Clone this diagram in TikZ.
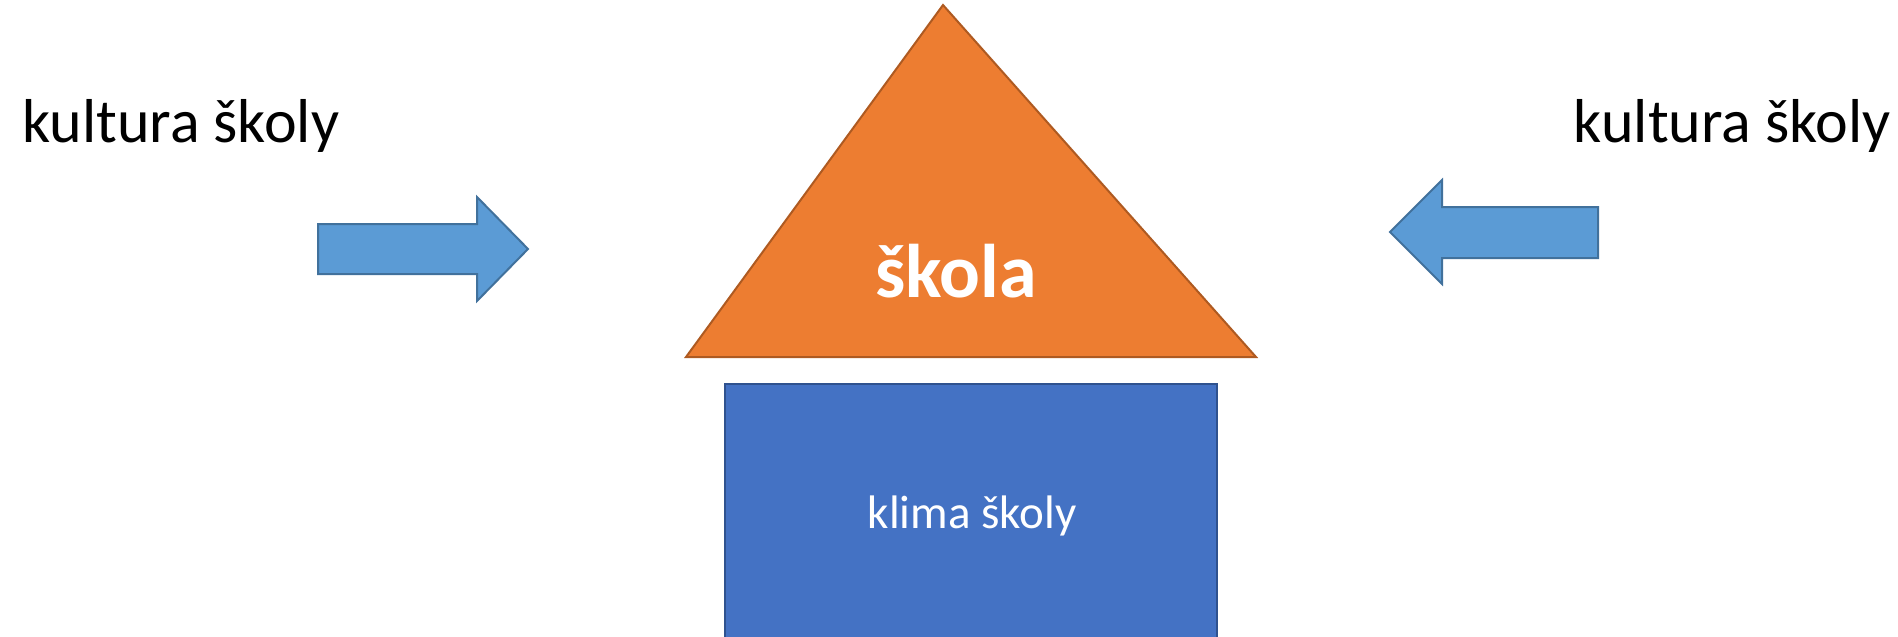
\documentclass[tikz,border=0pt]{standalone}
\usepackage{fontspec}
\setmainfont{Carlito}
\definecolor{orangefill}{HTML}{ED7D31}
\definecolor{orangeline}{HTML}{AE5A21}
\definecolor{bluefill}{HTML}{4472C4}
\definecolor{blueline}{HTML}{2F528F}
\definecolor{arrowfill}{HTML}{5B9BD5}
\definecolor{arrowline}{HTML}{41719C}
\tikzset{
  roof/.style={fill=orangefill, draw=orangeline, line width=2pt, line join=miter},
  wall/.style={fill=bluefill, draw=blueline, line width=2pt},
  blockarrow/.style={fill=arrowfill, draw=arrowline, line width=2pt, line join=miter},
  outerlabel/.style={font=\fontsize{62}{74}\selectfont, text=black, inner sep=0pt},
}
\begin{document}
\begin{tikzpicture}[x=1pt,y=-1pt]
\useasboundingbox (0,0) rectangle (1898,637);
% roof
\path[roof] (943,5) -- (1256,357) -- (686,357) -- cycle;
\node[inner sep=0pt, anchor=base, text=white, font=\fontsize{76}{90}\selectfont\bfseries] (skola) at (956,297) {škola};
% wall
\path[wall] (725,384) rectangle (1217,650);
\node[inner sep=0pt, anchor=base, text=white, font=\fontsize{47}{56}\selectfont] (klima) at (972,528) {klima školy};
% arrows
\path[blockarrow] (318,224) -- (477,224) -- (477,197) -- (528,249) -- (477,301) -- (477,274) -- (318,274) -- cycle;
\path[blockarrow] (1598,207) -- (1442,207) -- (1442,180) -- (1390,232) -- (1442,284) -- (1442,258) -- (1598,258) -- cycle;
% labels
\node[outerlabel, anchor=base west] (leftlabel) at (22,142) {kultura školy};
\node[outerlabel, anchor=base east] (rightlabel) at (1891,142) {kultura školy};
\end{tikzpicture}
\end{document}
